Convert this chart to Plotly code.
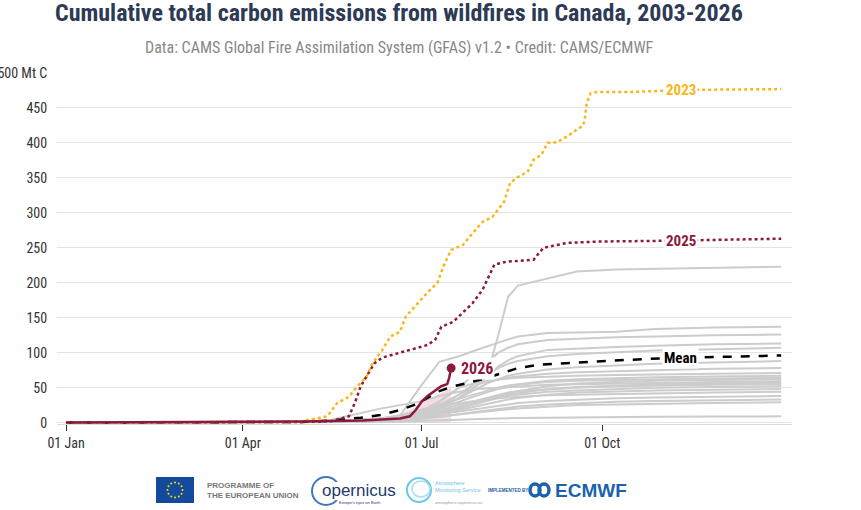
import math
import plotly.graph_objects as go

# ---------------- data ----------------
# day of year (0 = 01 Jan) and cumulative emissions (Mt C)
gray_days = [0, 90, 120, 135, 150, 160, 170, 180, 190, 200, 210, 215, 220, 225, 230, 245, 260, 280, 300, 330, 364]
gray_years = ["2003", "2004", "2005", "2006", "2007", "2008", "2009", "2010", "2011", "2012",
              "2013", "2014", "2015", "2016", "2017", "2018", "2019", "2020", "2021", "2022", "2024"]
gray_values = [
    [0, 0.5, 1, 2, 4, 6, 9, 14, 22, 35, 55, 75, 125, 180, 196, 206, 216, 219, 220, 221, 223],
    [0, 0.5, 1, 2, 4, 6, 10, 50, 87, 95, 105, 110, 114, 119, 123, 128, 129, 130, 134, 136, 137],
    [0, 0.5, 1, 2, 3, 5, 8, 15, 30, 50, 75, 88, 100, 107, 112, 118, 120, 122, 123, 125, 126],
    [0, 0.3, 1, 2, 3, 4, 6, 10, 20, 35, 55, 68, 80, 89, 95, 104, 106, 108, 110, 112, 113],
    [0, 0.3, 1, 1.5, 3, 5, 8, 14, 25, 40, 60, 70, 78, 84, 88, 95, 98, 101, 103, 105, 107],
    [0, 0.2, 0.5, 1, 2, 3, 5, 10, 20, 35, 50, 57, 62, 67, 70, 76, 79, 82, 84, 86, 88],
    [0, 0.2, 0.5, 1, 2, 4, 7, 12, 22, 40, 55, 59, 62, 64, 66, 70, 72, 74, 75, 77, 78],
    [0, 0.5, 1, 2, 3, 5, 8, 15, 30, 50, 58, 60, 62, 63, 64, 66, 67, 68, 69, 70, 71],
    [0, 0.3, 1, 2, 4, 6, 10, 18, 27, 35, 42, 46, 50, 53, 55, 60, 62, 64, 65, 66, 67],
    [0, 0.3, 0.8, 1.5, 3, 5, 8, 13, 20, 30, 40, 44, 48, 51, 54, 58, 60, 61, 62, 63, 64],
    [0, 0.2, 0.5, 1, 2, 3, 5, 8, 14, 22, 30, 34, 38, 42, 45, 52, 56, 58, 60, 61, 62],
    [0, 0.5, 1, 4, 14, 20, 25, 30, 38, 44, 48, 49, 50, 51, 52, 54, 55, 56, 57, 58, 59],
    [0, 0.2, 0.4, 1, 2, 3, 4, 7, 12, 20, 28, 32, 36, 39, 42, 48, 51, 53, 55, 56, 57],
    [0, 0.3, 1, 2, 3, 5, 8, 12, 18, 25, 32, 36, 40, 43, 45, 48, 50, 52, 53, 54, 55],
    [0, 0.2, 0.5, 1, 2, 3, 5, 9, 15, 22, 30, 33, 36, 38, 40, 44, 46, 48, 50, 51, 52],
    [0, 0.2, 0.5, 1, 1.5, 2, 4, 7, 12, 18, 25, 28, 30, 33, 35, 40, 43, 45, 46, 47, 48],
    [0, 0.3, 1, 1.5, 3, 5, 8, 14, 22, 28, 32, 34, 35, 36, 37, 39, 40, 41, 42, 43, 44],
    [0, 0.2, 0.5, 1, 2, 3, 5, 8, 12, 16, 20, 22, 24, 26, 28, 31, 33, 35, 36, 37, 38],
    [0, 0.2, 0.4, 0.8, 1.5, 2, 3, 5, 8, 12, 16, 18, 20, 22, 23, 26, 28, 30, 31, 32, 33],
    [0, 0.2, 0.4, 0.8, 1.5, 2.5, 4, 6, 9, 12, 15, 17, 18, 19, 20, 23, 25, 26, 27, 28, 29],
    [0, 0.1, 0.2, 0.4, 0.7, 1, 1.5, 2, 3, 4, 5, 5.5, 6, 6.3, 6.5, 7, 7.5, 8, 8.3, 8.6, 9],
]

days_2023 = [0, 60, 110, 120, 124, 133, 138, 144, 148, 153, 156, 161, 165, 170, 173, 179, 184, 189,
             192, 196, 202, 207, 212, 217, 223, 226, 230, 235, 238, 242, 245, 250, 256, 261, 263,
             264, 265, 267, 270, 288, 304, 321, 364]
vals_2023 = [0, 0.3, 1, 2, 4, 9, 28, 37, 51, 66, 85, 104, 123, 130, 152, 171, 186, 200,
             223, 247, 254, 271, 287, 294, 316, 343, 351, 359, 376, 383, 400, 401, 411, 421, 424,
             433, 457, 471, 473, 473, 474, 476, 477]

days_2025 = [0, 60, 120, 135, 144, 147, 150, 154, 157, 161, 170, 179, 184, 188, 191, 197, 202,
             207, 212, 216, 218, 224, 230, 238, 240, 243, 255, 272, 304, 364]
vals_2025 = [0, 0.3, 1, 2, 9, 28, 52, 71, 85, 93, 100, 107, 111, 119, 137, 144, 157,
             171, 190, 215, 226, 230, 231, 233, 240, 250, 257, 259, 260, 263]

days_2026 = [0, 31, 59, 90, 120, 151, 160, 170, 175, 178, 181, 184, 187, 191, 194, 195, 196]
vals_2026 = [0, 0.3, 0.6, 1, 1.5, 3, 4, 6, 9, 18, 30, 38, 44, 52, 55, 64, 78]

band_days_2026 = [120, 150, 165, 175, 182, 190, 196]
band_upper_2026 = [1, 4, 8, 18, 30, 42, 50]

days_mean = [0, 60, 120, 135, 150, 160, 170, 179, 184, 189, 196, 204, 212, 221, 230, 241, 265,
             288, 304, 330, 364]
vals_mean = [0, 0.3, 1, 3, 7, 11, 18, 27, 36, 44, 51, 57, 62, 70, 78, 83, 87, 90, 92, 94, 96]

x_tick_days = [0, 90, 181, 273]
x_tick_text = ["01 Jan", "01 Apr", "01 Jul", "01 Oct"]
y_tick_vals = [0, 50, 100, 150, 200, 250, 300, 350, 400, 450, 500]
y_tick_text = ["0", "50", "100", "150", "200", "250", "300", "350", "400", "450", "500 Mt C"]

title_text = "Cumulative total carbon emissions from wildfires in Canada, 2003-2026"
subtitle_text = "Data: CAMS Global Fire Assimilation System (GFAS) v1.2 • Credit: CAMS/ECMWF"

# ---------------- styles ----------------
GRAY = "#cccccc"
GOLD = "#f7b718"
RED = "#8c1a3c"
FONT = "Roboto Condensed, Liberation Sans Narrow, Arial Narrow, DejaVu Sans Condensed, Roboto, sans-serif"

W, H = 861, 510
ML, MR, MT, MB = 57, 69, 73, 86
PW = W - ML - MR
PH = H - MT - MB


def px(x):
    return (x - ML) / PW


def py(y):
    return (H - MB - y) / PH


fig = go.Figure()

fig.add_trace(go.Scatter(x=band_days_2026, y=band_upper_2026, mode="lines",
                         line=dict(width=0), fill="tozeroy",
                         fillcolor="rgba(215,140,160,0.30)", hoverinfo="skip", showlegend=False))

for name, vals in zip(gray_years, gray_values):
    fig.add_trace(go.Scatter(x=gray_days, y=vals, mode="lines", name=name,
                             line=dict(color=GRAY, width=2), showlegend=False))

fig.add_trace(go.Scatter(x=days_mean, y=vals_mean, mode="lines", name="Mean",
                         line=dict(color="black", width=2.5, dash="dash"), showlegend=False))
fig.add_trace(go.Scatter(x=days_2025, y=vals_2025, mode="lines", name="2025",
                         line=dict(color=RED, width=2.5, dash="dot"), showlegend=False))
fig.add_trace(go.Scatter(x=days_2023, y=vals_2023, mode="lines", name="2023",
                         line=dict(color=GOLD, width=2.5, dash="dot"), showlegend=False))
fig.add_trace(go.Scatter(x=days_2026, y=vals_2026, mode="lines", name="2026",
                         line=dict(color=RED, width=2.5), showlegend=False))
fig.add_trace(go.Scatter(x=[days_2026[-1]], y=[vals_2026[-1]], mode="markers",
                         marker=dict(color=RED, size=9), showlegend=False, hoverinfo="skip"))

annotations = []
label_day = 313
for txt, yv, col in [("2023", 476, GOLD), ("2025", 260, RED), ("Mean", 93, "black")]:
    annotations.append(dict(x=label_day, y=yv, xref="x", yref="y", text="<b>" + txt + "</b>",
                            showarrow=False, font=dict(family=FONT, size=15, color=col),
                            bgcolor="white", borderpad=1))
annotations.append(dict(x=days_2026[-1] + 4, y=vals_2026[-1], xref="x", yref="y",
                        text="<b>2026</b>", xanchor="left", showarrow=False,
                        font=dict(family=FONT, size=16, color=RED), bgcolor="white", borderpad=1))

# titles
annotations.append(dict(x=px(399), y=py(13), xref="paper", yref="paper", text="<b>" + title_text + "</b>",
                        showarrow=False, font=dict(family=FONT, size=24, color="#2d3a55"),
                        xanchor="center", yanchor="middle"))
annotations.append(dict(x=px(399), y=py(48), xref="paper", yref="paper", text=subtitle_text,
                        showarrow=False, font=dict(family=FONT, size=16, color="#888888"),
                        xanchor="center", yanchor="middle"))

# footer logos (approximated)
LOGO_FONT = "Liberation Sans, Arial, sans-serif"
shapes = []
shapes.append(dict(type="rect", xref="paper", yref="paper", x0=px(156), x1=px(194), y0=py(503), y1=py(477),
                   fillcolor="#134a9c", line=dict(width=0)))
for k in range(12):
    a = 2 * math.pi * k / 12
    cx, cy = 175 + 7.5 * math.cos(a), 490 + 7.5 * math.sin(a)
    shapes.append(dict(type="circle", xref="paper", yref="paper", x0=px(cx - 1), x1=px(cx + 1),
                       y0=py(cy + 1), y1=py(cy - 1), fillcolor="#ffdd00", line=dict(width=0)))
annotations.append(dict(x=px(205), y=py(490), xref="paper", yref="paper", xanchor="left", yanchor="middle",
                        text="<b>PROGRAMME OF<br>THE EUROPEAN UNION</b>", showarrow=False, align="left",
                        font=dict(family=LOGO_FONT, size=8, color="#777777")))
# copernicus
shapes.append(dict(type="circle", xref="paper", yref="paper", x0=px(312), x1=px(340),
                   y0=py(505), y1=py(477), line=dict(color="#3f78bd", width=2)))
shapes.append(dict(type="rect", xref="paper", yref="paper", x0=px(330), x1=px(342),
                   y0=py(500), y1=py(482), fillcolor="white", line=dict(width=0)))
annotations.append(dict(x=px(320), y=py(490), xref="paper", yref="paper", xanchor="left", yanchor="middle",
                        text="opernicus", showarrow=False,
                        font=dict(family=LOGO_FONT, size=17, color="#1e3a6e")))
annotations.append(dict(x=px(337), y=py(502), xref="paper", yref="paper", xanchor="left", yanchor="middle",
                        text="Europe's eyes on Earth", showarrow=False,
                        font=dict(family=LOGO_FONT, size=4, color="#1e3a6e")))
# atmosphere monitoring
shapes.append(dict(type="circle", xref="paper", yref="paper", x0=px(407), x1=px(431),
                   y0=py(502), y1=py(478), line=dict(color="#6cc5ea", width=2)))
shapes.append(dict(type="circle", xref="paper", yref="paper", x0=px(412), x1=px(430),
                   y0=py(497), y1=py(481), line=dict(color="#a8dcf2", width=1.5)))
annotations.append(dict(x=px(433), y=py(486), xref="paper", yref="paper", xanchor="left", yanchor="middle",
                        text="Atmosphere<br>Monitoring Service", showarrow=False, align="left",
                        font=dict(family=LOGO_FONT, size=5.5, color="#6cc5ea")))
annotations.append(dict(x=px(433), y=py(502), xref="paper", yref="paper", xanchor="left", yanchor="middle",
                        text="atmosphere.copernicus.eu", showarrow=False,
                        font=dict(family=LOGO_FONT, size=4, color="#999999")))
annotations.append(dict(x=px(486), y=py(490), xref="paper", yref="paper", xanchor="left", yanchor="middle",
                        text="<b>IMPLEMENTED BY</b>", showarrow=False,
                        font=dict(family=LOGO_FONT, size=4.5, color="#2a5d9f")))
# ECMWF
for cx in (535, 544):
    shapes.append(dict(type="circle", xref="paper", yref="paper", x0=px(cx - 5), x1=px(cx + 5),
                       y0=py(496), y1=py(484), line=dict(color="#1b62ad", width=3.5)))
annotations.append(dict(x=px(553), y=py(490), xref="paper", yref="paper", xanchor="left", yanchor="middle",
                        text="<b>ECMWF</b>", showarrow=False,
                        font=dict(family=LOGO_FONT, size=19, color="#1b62ad")))

fig.update_layout(
    width=W, height=H,
    margin=dict(l=ML, r=MR, t=MT, b=MB, autoexpand=False),
    paper_bgcolor="white", plot_bgcolor="white",
    font=dict(family=FONT, size=14, color="#333333"),
    annotations=annotations,
    shapes=shapes,
    showlegend=False,
    xaxis=dict(range=[-4.6, 369.5], tickvals=x_tick_days, ticktext=x_tick_text,
               showgrid=False, zeroline=False, showline=True, linecolor="#dddddd", linewidth=1,
               ticks="outside", ticklen=6, tickcolor="#333333", tickwidth=1,
               tickfont=dict(family=FONT, size=14, color="#333333"), fixedrange=True),
    yaxis=dict(range=[-2, 500], tickvals=y_tick_vals, ticktext=y_tick_text,
               showgrid=True, gridcolor="#e3e3e3", gridwidth=1, zeroline=False, showline=False,
               ticks="outside", ticklen=6, tickcolor="rgba(0,0,0,0)",
               tickfont=dict(family=FONT, size=14, color="#333333"), fixedrange=True),
)

fig.write_html("out.html")
